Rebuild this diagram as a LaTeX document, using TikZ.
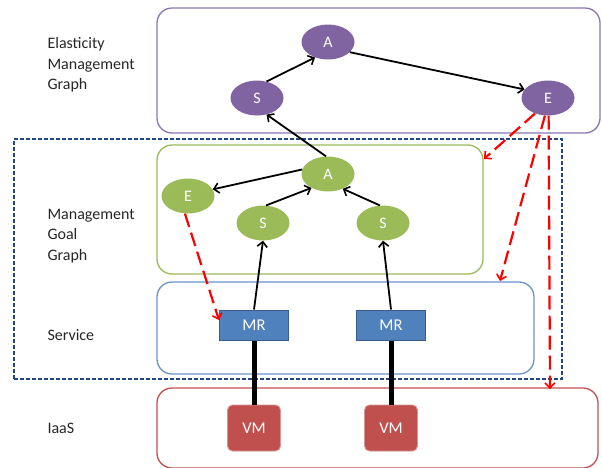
\documentclass[tikz,border=0pt]{standalone}
\usepackage{fontspec}
\setmainfont{Carlito}
\usetikzlibrary{arrows.meta,shapes.geometric}
\definecolor{purp}{HTML}{8064A2}
\definecolor{purpline}{HTML}{8B76B0}
\definecolor{grn}{HTML}{9BBB59}
\definecolor{blu}{HTML}{4F81BD}
\definecolor{bluline}{HTML}{385D8A}
\definecolor{dred}{HTML}{C0504D}
\definecolor{navy}{HTML}{1F497D}
\begin{document}
\begin{tikzpicture}[x=1pt,y=-1pt,
  layerbox/.style={draw, rounded corners=15pt, line width=1.3pt, inner sep=0pt},
  ell/.style={ellipse, minimum width=53pt, minimum height=35pt, inner sep=0pt, text=white, font=\fontsize{16}{18}\selectfont},
  mrbox/.style={rectangle, fill=blu, draw=bluline, line width=1pt, minimum width=69pt, minimum height=30pt, inner sep=0pt, text=white, font=\fontsize{16.5}{18}\selectfont},
  vmbox/.style={rectangle, rounded corners=5pt, fill=dred, draw=dred!60, line width=0.8pt, minimum width=53pt, minimum height=46pt, inner sep=0pt, text=white, font=\fontsize{16.5}{18}\selectfont},
  lbl/.style={align=left, anchor=west, font=\fontsize{16}{20.5}\selectfont, text=black!85},
  arr/.style={-{Straight Barb[length=5pt,width=10pt,line width=1.6pt]}, line width=1.8pt, black},
  redarr/.style={-{Straight Barb[length=5pt,width=10pt,line width=1.6pt]}, line width=2.2pt, red, dash pattern=on 14pt off 6pt},
  thick link/.style={line width=5pt, black}
]
\useasboundingbox (0,0) rectangle (602,467);

% layer boxes
\node[layerbox, draw=purpline, minimum width=443pt, minimum height=125pt] (emg) at (378.5,70.5) {};
\node[draw=navy, dash pattern=on 4pt off 2pt, line width=1.3pt, minimum width=548pt, minimum height=240pt, inner sep=0pt] (dash) at (288,259) {};
\node[layerbox, draw=grn, minimum width=326pt, minimum height=129pt] (mgg) at (320,209.5) {};
\node[layerbox, draw=blu!85, minimum width=377pt, minimum height=92pt] (svc) at (345.5,328) {};
\node[layerbox, draw=dred, minimum width=441pt, minimum height=80pt] (iaas) at (377.5,428) {};

% labels
\node[lbl] (l1) at (44,65) {Elasticity\\Management\\Graph};
\node[lbl] (l2) at (44,236) {Management\\Goal\\Graph};
\node[lbl] (l3) at (44,335) {Service};
\node[lbl] (l4) at (44,428) {IaaS};

% elasticity graph
\node[ell, fill=purp] (pA) at (328,42) {A};
\node[ell, fill=purp] (pS) at (257,98) {S};
\node[ell, fill=purp] (pE) at (548,98) {E};

% management goal graph
\node[ell, fill=grn] (gA) at (328,174) {A};
\node[ell, fill=grn] (gE) at (188,196) {E};
\node[ell, fill=grn] (gS1) at (263,223) {S};
\node[ell, fill=grn] (gS2) at (383,223) {S};

% service
\node[mrbox] (mr1) at (254,325) {MR};
\node[mrbox] (mr2) at (391,325) {MR};

% iaas
\node[vmbox] (vm1) at (254,428) {VM};
\node[vmbox] (vm2) at (391,428) {VM};

% black arrows
\draw[arr] (gA.north) ++(-2,0) coordinate (gAn) (gAn) -- (pS.-60);
\draw[arr] (pS.60) -- (pA.-130);
\draw[arr] (pA.-25) -- (pE.160);
\draw[arr] (gA.170) -- (gE.15);
\draw[arr] (gS1.80) -- (gA.-140);
\draw[arr] (gS2.100) -- (gA.-45);
\draw[arr] (mr1.north) -- (gS1.south);
\draw[arr] (mr2.north) -- (gS2.south);

% thick links
\draw[thick link] (mr1.south) -- (vm1.north);
\draw[thick link] (mr2.south) -- (vm2.north);

% red dashed arrows
\coordinate (gcorner) at (484,159);
\coordinate (scorner) at (500,281);
\coordinate (icorner) at (550,389);
\draw[redarr] (pE.-130) -- (gcorner);
\draw[redarr] (pE.-100) -- (scorner);
\draw[redarr] (pE.-88) -- (icorner);
\draw[redarr] (gE.-100) -- (mr1.172);
\end{tikzpicture}
\end{document}
